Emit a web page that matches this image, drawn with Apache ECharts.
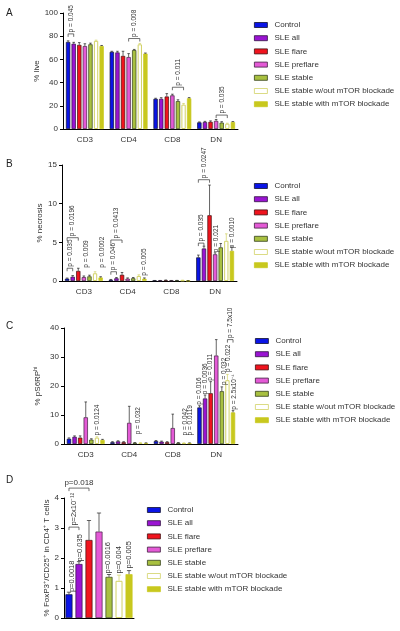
<!DOCTYPE html>
<html><head><meta charset="utf-8">
<script src="https://cdn.jsdelivr.net/npm/echarts@6/dist/echarts.min.js"></script>
<style>html,body{margin:0;padding:0;background:#fff}#c{width:400px;height:631px}</style>
</head><body><div id="c"></div>
<script>
// ---------- data ----------
const groups = ['Control','SLE all','SLE flare','SLE preflare','SLE stable','SLE stable w/out mTOR blockade','SLE stable with mTOR blockade'];
const cellTypes = ['CD3','CD4','CD8','DN'];
const groupColors  = ['#0a14e6','#9a14d2','#f0141e','#e45ad6','#a8c040','#ffffff','#c8c81e'];
const groupBorders = ['#101030','#301040','#401010','#402040','#34401a','#d2d266','#c8c81e'];

const liveTicks = [0,20,40,60,80,100];
// rows = groups, cols = CD3, CD4, CD8, DN
const liveMean = [[75,66.5,26,5.7],[73.5,66,26,6],[72.5,63,28,6.2],[71.5,62,29,7],[73,68,24,5.5],[76,73,21,4.6],[71.5,65,26.5,6]];
const liveErr  = [[1,0.5,0.5,0.4],[1.2,1,1,0.6],[2,4,2.5,0.8],[2,3,1,1.2],[1,0.6,1.2,0.8],[0.6,0.8,1,0.4],[0.5,0.5,0.6,0.4]];
const liveNotes = [[0,0,1,82,'p = 0.045'],[1,3,5,78,'p = 0.008'],[2,3,5,36,'p = 0.011'],[3,3,5,12,'p = 0.035']];

const necTicks = [0,5,10,15];
const necMean = [[0.3,0.15,0.05,3.05],[0.55,0.35,0.05,4.2],[1.3,0.8,0.08,8.5],[0.5,0.3,0.05,3.45],[0.6,0.35,0.06,4.35],[1.0,0.65,0.08,5.2],[0.45,0.3,0.04,3.9]];
const necErr  = [[0.08,0.05,0.02,0.3],[0.15,0.1,0.02,0.3],[0.35,0.3,0.05,3.9],[0.15,0.1,0.02,0.2],[0.15,0.1,0.02,0.5],[0.2,0.15,0.03,0.9],[0.1,0.1,0.02,0.5]];
const necNotes = [[0,0,1,1.65,'p = 0.035'],[0,0,2,5.6,'p = 0.0196'],[0,3.5,3.5,1.6,'p = 0.009'],[0,6.2,6.2,1.6,'p = 0.0002'],
  [1,0,1,1.2,'p = 0.046'],[1,0,2,5.3,'p = 0.0413'],[1,6,6,0.55,'p = 0.005'],
  [3,0,1,4.9,'p = 0.035'],[3,0,2,13.1,'p = 0.0247'],[3,3.2,3.2,3.6,'p = 0.021'],[3,6,6,4.1,'p = 0.0010']];

const s6Ticks = [0,10,20,30,40];
const s6Mean = [[1.8,0.6,1.0,12.6],[2.5,0.9,0.8,15.7],[2.2,0.6,0.6,17.5],[9.2,7.3,5.5,30.5],[1.5,0.4,0.4,18.2],[2.2,0.4,0.3,22],[1.4,0.3,0.3,10.9]];
const s6Err  = [[0.3,0.2,0.2,0.6],[0.3,0.2,0.2,1.2],[0.6,0.2,0.2,4],[5.3,5.7,4.8,5.5],[0.3,0.1,0.1,1.5],[0.3,0.1,0.1,2],[0.2,0.1,0.1,0.6]];
const s6Notes = [[0,5,5,2.6,'p = 0.0124'],[1,4.6,4.6,3,'p = 0.032'],[2,5.3,5.3,2.6,'p = 0.042'],[2,6.1,6.1,2.6,'p = 0.0119'],
  [3,0,0,13.2,'p = 0.016'],[3,1,1,16.8,'p = 0.0036'],[3,2,2,21.5,'p = 0.011'],[3,4.4,4.4,20,'p = 0.032'],
  [3,5.2,5.2,24.5,'p = 0.022'],[3,6.2,6.2,11.5,'p = 2.5x10⁻⁴'],[3,5,6,36,'p = 7.5x10']];

const foxTicks = [0,1,2,3,4];
const foxCats = [''];
const foxMean = [[0.79],[1.8],[2.6],[2.88],[1.37],[1.24],[1.46]];
const foxErr  = [[0.07],[0.08],[0.65],[0.62],[0.08],[0.19],[0.12]];
const foxNotes = [[0,0.3,0.3,0.83,'p=0.0018'],[0,1.1,1.1,1.85,'p=0.035'],[0,0,1,3.03,'p=2x10⁻¹²'],[0,0,2,4.33,'p=0.018','h'],
  [0,3.85,3.85,1.45,'p=0.0016'],[0,5,5,1.45,'p=0.004'],[0,6,6,1.62,'p=0.005']];

// ---------- layout / style ----------
const FONT = '"Liberation Sans", Arial, sans-serif';
const TXT = '#333';
const panels = [
  {grid:{left:63,top:13,width:175,height:116}, cats:cellTypes, mean:liveMean, err:liveErr, ticks:liveTicks, notes:liveNotes,
   name:'% live', nameGap:20, bw:4.3, bg:0.3, pfs:6.5, legend:{left:249,top:15}, letter:'A', ly:8},
  {grid:{left:62,top:165,width:175,height:116}, cats:cellTypes, mean:necMean, err:necErr, ticks:necTicks, notes:necNotes,
   name:'% necrosis', nameGap:15, bw:4.3, bg:0.3, pfs:6.5, legend:{left:249,top:176}, letter:'B', ly:159},
  {grid:{left:64,top:328,width:174,height:116}, cats:cellTypes, mean:s6Mean, err:s6Err, ticks:s6Ticks, notes:s6Notes,
   name:'% pS6RP{sup|hi}', nameGap:21, bw:4.3, bg:0.3, pfs:6.5, legend:{left:250,top:331}, letter:'C', ly:321},
  {grid:{left:64,top:498,width:70,height:120}, cats:foxCats, mean:foxMean, err:foxErr, ticks:foxTicks, notes:foxNotes,
   name:'% FoxP3{sup|+}/CD25{sup|+} in CD4{sup|+} T cells', nameGap:12, bw:7, bg:0.43, pfs:7.5, legend:{left:142,top:500}, letter:'D', ly:475}
];

function off(i, w, g){ const n = groups.length; const total = n*w + (n-1)*g*w; return -total/2 + w/2 + i*(w + g*w); }

const option = {animation:false, backgroundColor:'#fff', textStyle:{fontFamily:FONT},
  grid:[], xAxis:[], yAxis:[], series:[], legend:[], graphic:[]};

panels.forEach((p, k) => {
  option.grid.push(Object.assign({containLabel:false, outerBoundsMode:'none'}, p.grid));
  option.xAxis.push({type:'category', gridIndex:k, data:p.cats,
    axisLine:{lineStyle:{color:'#000', width:1}},
    axisTick:{alignWithLabel:true, length:3, lineStyle:{color:'#000'}},
    axisLabel:{fontSize:8, color:TXT, margin:7, fontFamily:FONT}});
  const t = p.ticks;
  option.yAxis.push({type:'value', gridIndex:k, min:t[0], max:t[t.length-1], interval:t[1]-t[0],
    axisLine:{show:true, lineStyle:{color:'#000', width:1}},
    axisTick:{show:true, length:3, lineStyle:{color:'#000'}},
    splitLine:{show:false},
    axisLabel:{fontSize:8, color:TXT, margin:5, fontFamily:FONT},
    name:p.name, nameLocation:'middle', nameRotate:90, nameGap:p.nameGap,
    nameTextStyle:{fontSize:8, color:TXT, fontFamily:FONT, rich:{sup:{fontSize:5.5, color:TXT, fontFamily:FONT, verticalAlign:'top', padding:[0,0,5,0]}}}});
  groups.forEach((g, gi) => {
    option.series.push({type:'bar', name:g, xAxisIndex:k, yAxisIndex:k, data:p.mean[gi],
      barWidth:p.bw, barGap:(p.bg*100)+'%',
      itemStyle:{color:groupColors[gi], borderColor:groupBorders[gi], borderWidth: gi === 5 ? 1 : 0.7}});
  });
  // error bars
  const errData = [];
  groups.forEach((g, gi) => p.cats.forEach((c, ci) => errData.push([ci, gi, p.mean[gi][ci], p.err[gi][ci]])));
  option.series.push({type:'custom', xAxisIndex:k, yAxisIndex:k, z:3, clip:false, data:errData, encode:{x:0, y:2},
    renderItem:(params, api) => {
      const ci = api.value(0), gi = api.value(1), m = api.value(2), e = api.value(3);
      const a = api.coord([ci, m]), b = api.coord([ci, m + e]);
      const x = a[0] + off(gi, p.bw, p.bg);
      const cap = Math.max(2, p.bw*0.6);
      const col = gi === 5 ? '#d2d266' : '#222';
      return {type:'group', children:[
        {type:'line', shape:{x1:x, y1:a[1], x2:x, y2:b[1]}, style:{stroke:col, lineWidth:0.7}},
        {type:'line', shape:{x1:x-cap/2, y1:b[1], x2:x+cap/2, y2:b[1]}, style:{stroke:col, lineWidth:0.7}}]};
    }});
  // p-value notes
  option.series.push({type:'custom', xAxisIndex:k, yAxisIndex:k, z:4, clip:false, silent:true,
    data:p.notes.map(n => [n[0], n[3]]), encode:{x:0, y:1},
    renderItem:(params, api) => {
      const n = p.notes[params.dataIndex];
      const base = api.coord([n[0], n[3]]);
      const x1 = base[0] + off(n[1], p.bw, p.bg), x2 = base[0] + off(n[2], p.bw, p.bg);
      const y = base[1];
      const ch = [];
      let ty = y - 1;
      if (n[1] !== n[2]) {
        ch.push({type:'polyline', shape:{points:[[x1, y+3],[x1, y],[x2, y],[x2, y+3]]}, style:{stroke:'#333', lineWidth:0.7, fill:null}});
        ty = y - 1.5;
      }
      const xm = (x1 + x2)/2;
      if (n[5] === 'h') {
        ch.push({type:'text', x:xm, y:ty, style:{text:n[4], align:'center', verticalAlign:'bottom', fontSize:p.pfs+0.5, fontFamily:FONT, fill:TXT}});
      } else {
        ch.push({type:'text', x:xm, y:ty, rotation:Math.PI/2, style:{text:n[4], align:'left', verticalAlign:'middle', fontSize:p.pfs, fontFamily:FONT, fill:TXT}});
      }
      return {type:'group', children:ch};
    }});
  option.legend.push({orient:'vertical', left:p.legend.left, top:p.legend.top, itemWidth:13, itemHeight:5, itemGap:3.2,
    selectedMode:false,
    data:groups.map((g, gi) => ({name:g, icon:'rect', itemStyle:{color:groupColors[gi], borderColor:groupBorders[gi], borderWidth:0.8}})),
    textStyle:{fontSize:8, color:TXT, fontFamily:FONT, lineHeight:10, padding:[0,0,0,2]}});
  option.graphic.push({type:'text', x:6, y:p.ly, style:{text:p.letter, fontSize:10, fill:'#222', fontFamily:FONT}});
});

const chart = echarts.init(document.getElementById('c'), null, {renderer:'canvas'});
chart.setOption(option);
</script></body></html>
